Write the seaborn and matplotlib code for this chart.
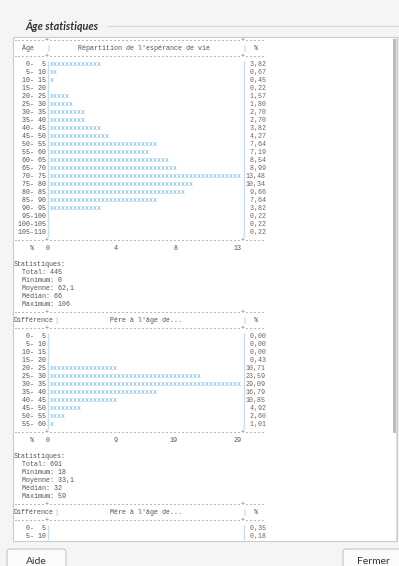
import matplotlib
matplotlib.use("Agg")
import matplotlib.pyplot as plt
from matplotlib.patches import Rectangle, FancyBboxPatch
import seaborn as sns

# ---- data ----
age_bins = [(lo, lo + 5) for lo in range(0, 110, 5)]
age_pct = [3.82, 0.67, 0.45, 0.22, 1.57, 1.80, 2.70, 2.70, 3.82, 4.27, 7.64,
           7.19, 8.54, 8.99, 13.48, 10.34, 9.66, 7.64, 3.82, 0.22, 0.22, 0.22]
age_ticks = ["0", "4", "8", "13"]
age_stats = [("Total", "445"), ("Minimum", "0"), ("Moyenne", "62,1"),
             ("Médian", "66"), ("Maximum", "106")]

pere_bins = [(lo, lo + 5) for lo in range(0, 60, 5)]
pere_pct = [0.00, 0.00, 0.00, 0.43, 10.71, 23.59, 29.09, 16.79, 10.85, 4.92, 2.60, 1.01]
pere_ticks = ["0", "9", "19", "29"]
pere_stats = [("Total", "691"), ("Minimum", "18"), ("Moyenne", "33,1"),
              ("Médian", "32"), ("Maximum", "59")]

# only the first two rows of the third table are visible
mere_bins = [(0, 5), (5, 10)]
mere_pct = [0.35, 0.18]
mere_scale = 25.0  # hidden part, rough guess (bars too short to show anyway)

# ---- style ----
sns.set_theme(style="white")
BG = "#f5f5f5"
TXT = "#505050"
DASH = "#7a7a7a"
PCT = "#6f605b"
XBLUE = "#5eaee0"
VLINE = "#bfe0f5"

X0, CW = 14.0, 4.0      # text grid: left edge, char width (px)
Y0, LH = 40.5, 8.0      # first line centre, line height (px)
NBAR = 48               # width of the bar column in chars
mono = dict(family="Liberation Mono", fontsize=4.8, va="center", ha="left")

fig = plt.figure(figsize=(3.99, 5.66), dpi=100, facecolor=BG)
ax = fig.add_axes([0, 0, 1, 1])
ax.set_xlim(0, 399)
ax.set_ylim(566, 0)
ax.axis("off")


def cx(i):
    return X0 + i * CW


def ly(k):
    return Y0 + k * LH


def put(i, k, s, color=TXT):
    ax.text(cx(i), ly(k), s, color=color, **mono)


def dashed(k):
    put(0, k, "-" * 8 + "+" + "-" * NBAR + "+" + "-" * 5, DASH)


def table(k, left, title, bins, pct, scale, ticks=None, stats=None):
    dashed(k)
    put(0 if len(left) > 6 else 2, k + 1, left)
    put(8 if len(left) <= 8 else len(left), k + 1, "|", "#9fb4c6")
    put(9 + (NBAR - len(title)) // 2, k + 1, title)
    put(57, k + 1, "|", "#9fb4c6")
    put(60, k + 1, "%")
    dashed(k + 2)
    r0 = k + 3
    for j, ((lo, hi), v) in enumerate(zip(bins, pct)):
        put(0, r0 + j, f"{lo:3d}-{hi:3d}".rjust(8))
        n = int(v / scale * NBAR)
        if n:
            put(9, r0 + j, "x" * n, XBLUE)
        put(58, r0 + j, f"{v:5.2f}".replace(".", ","), PCT)
    r1 = r0 + len(bins) - 1
    ax.vlines([cx(8.5), cx(57.5)], ly(r0) - LH / 2, min(ly(r1) + LH / 2, 540),
              color=VLINE, lw=1.0)
    k = r1 + 1
    if ticks is None:
        return k
    dashed(k)
    put(4, k + 1, "%")
    for t, end in zip(ticks, [8, 25, 40, 56]):
        put(end - len(t) + 1, k + 1, t)
    put(0, k + 3, "Statistiques:")
    for j, (name, val) in enumerate(stats):
        put(2, k + 4 + j, f"{name}: {val}")
    return k + 4 + len(stats)


# window pieces
ax.text(25, 26, "Âge statistiques", family="Lato", fontsize=7.8, fontweight="bold",
        fontstyle="italic", color="#333333", va="center", ha="left")
ax.hlines(26, 108, 399, color="#d4d4d4", lw=0.8)
ax.add_patch(Rectangle((13, 37), 384, 504, facecolor="white", edgecolor="#cccccc", lw=0.8))
ax.vlines(396, 38, 540, color="#dedede", lw=0.8)
ax.add_patch(Rectangle((393.3, 39), 3.2, 394, facecolor="#bdbdbd", edgecolor="none"))

k = table(0, "Âge", "Répartition de l'espérance de vie", age_bins, age_pct,
          max(age_pct), age_ticks, age_stats)
k = table(k, "Différence", "Père à l'âge de...", pere_bins, pere_pct,
          max(pere_pct), pere_ticks, pere_stats)
table(k, "Différence", "Mère à l'âge de...", mere_bins, mere_pct, mere_scale)

for x, w, label in [(7, 59, "Aide"), (343, 62, "Fermer")]:
    ax.add_patch(FancyBboxPatch((x, 549), w, 24, boxstyle="round,pad=0,rounding_size=3",
                                facecolor="#fbfbfb", edgecolor="#c6c6c6", lw=0.8))
    ax.text(x + w / 2 if label == "Aide" else 373, 561, label, family="Lato", fontsize=7.5,
            color="#333333", va="center", ha="center")

fig.savefig("out.png", dpi=100, facecolor=BG)
